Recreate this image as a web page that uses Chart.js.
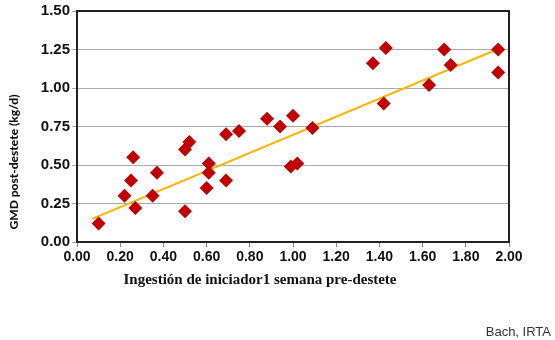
<!DOCTYPE html>
<html>
<head>
<meta charset="utf-8">
<script src="https://cdn.jsdelivr.net/npm/chart.js@4"></script>
<style>
  body { margin: 0; background: #fff; }
  #wrap { position: relative; width: 555px; height: 340px; }
</style>
</head>
<body>
<div id="wrap"><canvas id="chart" width="555" height="340"></canvas></div>
<script>
// intake of starter (kg) vs post-weaning ADG (kg/d)
const intake = [0.10, 0.22, 0.25, 0.26, 0.27, 0.35, 0.37, 0.50, 0.50, 0.52,
  0.60, 0.61, 0.61, 0.69, 0.69, 0.75, 0.88, 0.94, 1.00, 0.99, 1.02, 1.09,
  1.37, 1.43, 1.42, 1.63, 1.70, 1.73, 1.95, 1.95];
const gain = [0.12, 0.30, 0.40, 0.55, 0.22, 0.30, 0.45, 0.20, 0.60, 0.65,
  0.35, 0.51, 0.45, 0.40, 0.70, 0.72, 0.80, 0.75, 0.82, 0.49, 0.51, 0.74,
  1.16, 1.26, 0.90, 1.02, 1.25, 1.15, 1.25, 1.10];
const trendX = [0.07, 1.96];
const trendY = [0.15, 1.26];
const xTicks = [0, 0.2, 0.4, 0.6, 0.8, 1.0, 1.2, 1.4, 1.6, 1.8, 2.0];
const yTicks = [0, 0.25, 0.5, 0.75, 1.0, 1.25, 1.5];

const xTitle = "Ingestión de iniciador1 semana pre-destete";
const yTitle = "GMD post-destete (kg/d)";
const credit = "Bach, IRTA";

const tickFont = { family: "Liberation Sans, Arial, sans-serif", size: 14, weight: "bold" };

const extras = {
  id: "extras",
  afterDraw(chart) {
    const { ctx, chartArea: a } = chart;
    ctx.save();
    ctx.strokeStyle = "#222";
    ctx.lineWidth = 2;
    ctx.strokeRect(a.left, a.top, a.right - a.left, a.bottom - a.top);

    ctx.fillStyle = "#111";
    ctx.textAlign = "center";
    ctx.textBaseline = "middle";
    ctx.font = "bold 15px 'Liberation Serif', serif";
    ctx.fillText(xTitle, 260, 280);

    ctx.translate(14, 162);
    ctx.rotate(-Math.PI / 2);
    ctx.font = "900 12px Lato, sans-serif";
    ctx.fillText(yTitle, 0, 0);
    ctx.restore();

    ctx.save();
    ctx.fillStyle = "#333";
    ctx.font = "13px 'Liberation Sans', Arial, sans-serif";
    ctx.textAlign = "right";
    ctx.textBaseline = "middle";
    ctx.fillText(credit, 551, 332);
    ctx.restore();
  }
};

new Chart(document.getElementById("chart"), {
  type: "scatter",
  data: {
    datasets: [
      {
        label: "datos",
        data: intake.map((x, i) => ({ x: x, y: gain[i] })),
        pointStyle: "rectRot",
        pointRadius: 7,
        pointHoverRadius: 7,
        backgroundColor: "#c00000",
        borderColor: "#c00000",
        borderWidth: 0,
        order: 1,
      },
      {
        type: "line",
        label: "tendencia",
        data: trendX.map((x, i) => ({ x: x, y: trendY[i] })),
        borderColor: "#ffb300",
        borderWidth: 2,
        pointRadius: 0,
        fill: false,
        order: 2,
      },
    ],
  },
  options: {
    responsive: false,
    animation: false,
    layout: { padding: { left: 0, right: 46, top: 10, bottom: 0 } },
    plugins: { legend: { display: false }, tooltip: { enabled: false } },
    scales: {
      x: {
        type: "linear",
        min: 0,
        max: 2,
        afterBuildTicks: (s) => { s.ticks = xTicks.map((v) => ({ value: v })); },
        afterFit: (s) => { s.height = 98; },
        grid: { drawOnChartArea: false, drawTicks: true, tickLength: 5, color: "#888" },
        border: { color: "#222", width: 2 },
        ticks: {
          color: "#111",
          font: tickFont,
          padding: 2,
          maxRotation: 0,
          callback: (v) => Number(v).toFixed(2),
        },
      },
      y: {
        min: 0,
        max: 1.5,
        afterBuildTicks: (s) => { s.ticks = yTicks.map((v) => ({ value: v })); },
        afterFit: (s) => { s.width = 77; },
        grid: { color: "#aaa", lineWidth: 1, drawTicks: true, tickLength: 5 },
        border: { color: "#222", width: 2 },
        ticks: {
          color: "#111",
          font: { family: "Liberation Sans, Arial, sans-serif", size: 15, weight: "bold" },
          padding: 2,
          callback: (v) => Number(v).toFixed(2),
        },
      },
    },
  },
  plugins: [extras],
});
</script>
</body>
</html>
